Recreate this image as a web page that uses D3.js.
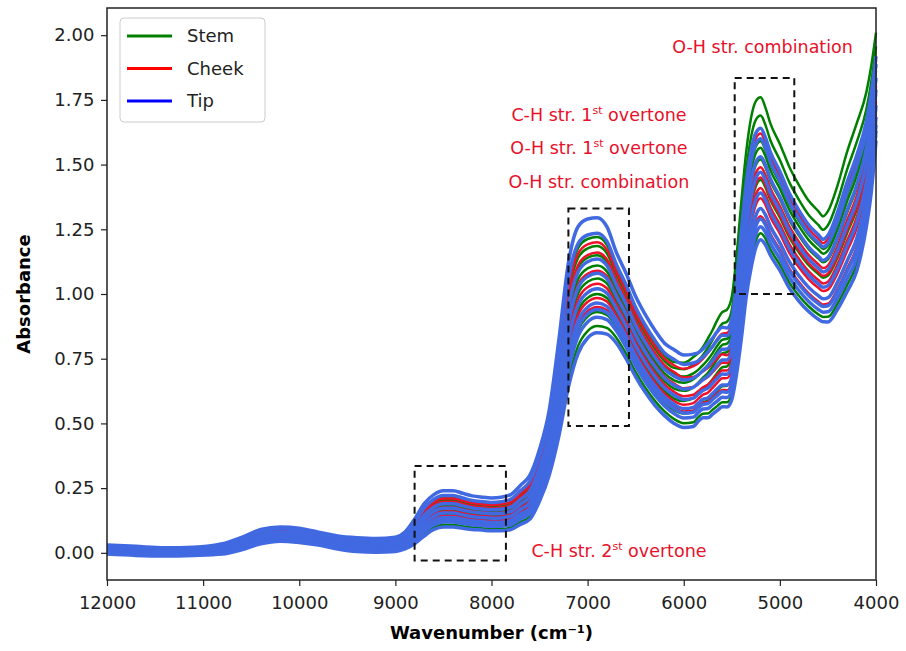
<!DOCTYPE html>
<html>
<head>
<meta charset="utf-8">
<script src="https://cdn.jsdelivr.net/npm/d3@7"></script>
<style>
  body { margin: 0; background: #fff; }
  text { font-family: "DejaVu Sans", sans-serif; }
</style>
</head>
<body>
<div id="chart"></div>
<script>
(function() {
	// wavenumber grid (cm-1) and the lowest / highest spectrum
	var wavenumbers = [12000, 11700, 11400, 11100, 10800, 10600, 10400, 10200, 10000, 9800, 9600, 9400, 9200, 9000,
		8900, 8800, 8700, 8600, 8500, 8400, 8300, 8200, 8100, 8000, 7900, 7800, 7700, 7600, 7500, 7400, 7300, 7200,
		7100, 7000, 6900, 6800, 6700, 6600, 6500, 6400, 6300, 6200, 6100, 6000, 5900, 5850, 5800, 5750, 5700, 5650,
		5600, 5550, 5500, 5450, 5400, 5350, 5300, 5250, 5200, 5150, 5100, 5000, 4900, 4800, 4700, 4600, 4550, 4500,
		4400, 4300, 4200, 4100, 4050, 4000];
	var lowEdge = [-0.005, -0.01, -0.012, -0.01, -0.005, 0.012, 0.035, 0.045, 0.04, 0.03, 0.015, 0.005, 0.002, 0.005,
		0.015, 0.035, 0.065, 0.09, 0.10, 0.10, 0.095, 0.09, 0.088, 0.085, 0.085, 0.09, 0.11, 0.13, 0.20, 0.30, 0.45, 0.64,
		0.77, 0.83, 0.85, 0.845, 0.81, 0.75, 0.68, 0.62, 0.57, 0.53, 0.50, 0.485, 0.49, 0.51, 0.525, 0.525, 0.54, 0.555,
		0.57, 0.57, 0.60, 0.70, 0.84, 1.00, 1.11, 1.19, 1.22, 1.20, 1.16, 1.10, 1.03, 0.98, 0.94, 0.91, 0.90, 0.90,
		0.95, 1.02, 1.10, 1.27, 1.40, 1.60];
	var highEdge = [0.03, 0.025, 0.02, 0.022, 0.035, 0.06, 0.09, 0.10, 0.095, 0.08, 0.065, 0.058, 0.055, 0.06,
		0.08, 0.13, 0.19, 0.225, 0.24, 0.24, 0.23, 0.22, 0.215, 0.212, 0.215, 0.225, 0.26, 0.30, 0.40, 0.55, 0.82, 1.12,
		1.26, 1.29, 1.295, 1.26, 1.16, 1.08, 0.99, 0.92, 0.86, 0.81, 0.785, 0.775, 0.79, 0.80, 0.82, 0.85, 0.88, 0.915,
		0.94, 0.945, 0.99, 1.15, 1.36, 1.55, 1.68, 1.745, 1.76, 1.72, 1.66, 1.58, 1.49, 1.42, 1.36, 1.32, 1.30, 1.32,
		1.42, 1.55, 1.66, 1.78, 1.88, 2.01];

	// peak heights of each sample: near 6900 and near 5200 cm-1
	var stemPeak1 = [1.22, 1.185, 1.15, 1.11, 1.06, 1.00, 0.93, 0.876];
	var stemPeak2 = [1.76, 1.69, 1.59, 1.565, 1.52, 1.44, 1.33, 1.235];
	var cheekPeak1 = [1.20, 1.16, 1.09, 1.04, 0.985, 0.95];
	var cheekPeak2 = [1.62, 1.49, 1.45, 1.41, 1.37, 1.30];
	var tipPeak1 = [1.295, 1.235, 1.135, 1.08, 1.02, 0.965, 0.94, 0.91, 0.85];
	var tipPeak2 = [1.64, 1.60, 1.53, 1.47, 1.39, 1.33, 1.29, 1.26, 1.21];

	var xTicks = [12000, 11000, 10000, 9000, 8000, 7000, 6000, 5000, 4000];
	var yTicks = [0, 0.25, 0.5, 0.75, 1.0, 1.25, 1.5, 1.75, 2.0];

	var groups = ["Stem", "Cheek", "Tip"];
	var legendColors = ["#008000", "#ff0000", "#0000ff"];

	var width = 906, height = 651;
	var margin = { top: 8, left: 107, right: 30, bottom: 71 };

	var svg = d3.select("#chart")
				.append("svg")
				.attr("width", width)
				.attr("height", height);

	var xScale = d3.scaleLinear()
				.domain([12000, 4000])
				.range([margin.left, width - margin.right]);

	var yScale = d3.scaleLinear()
				.domain([-0.105, 2.105])
				.range([height - margin.bottom, margin.top]);

	// where a sample sits between the two edges, at each wavenumber
	function spectrum(p1, p2) {
		var t1 = (p1 - 0.85) / (1.295 - 0.85);
		var t2 = (p2 - 1.22) / (1.76 - 1.22);
		return wavenumbers.map(function(w, i) {
			var k = Math.max(0, Math.min(1, (6100 - w) / 600));
			var t = t1 * (1 - k) + t2 * k;
			return [w, lowEdge[i] + t * (highEdge[i] - lowEdge[i])];
		});
	}

	var line = d3.line()
				.x(function(d) { return xScale(d[0]); })
				.y(function(d) { return yScale(d[1]); })
				.curve(d3.curveMonotoneX);

	var plot = svg.append("g");

	plot.selectAll(".stem")
		.data(stemPeak1.map(function(p, i) { return spectrum(p, stemPeak2[i]); }))
		.enter()
		.append("path")
		.attr("class", "stem")
		.attr("d", line)
		.attr("fill", "none")
		.attr("stroke", "#008000")
		.attr("stroke-width", 2.5);

	plot.selectAll(".cheek")
		.data(cheekPeak1.map(function(p, i) { return spectrum(p, cheekPeak2[i]); }))
		.enter()
		.append("path")
		.attr("class", "cheek")
		.attr("d", line)
		.attr("fill", "none")
		.attr("stroke", "#f0102a")
		.attr("stroke-width", 2.5);

	plot.selectAll(".tip")
		.data(tipPeak1.map(function(p, i) { return spectrum(p, tipPeak2[i]); }))
		.enter()
		.append("path")
		.attr("class", "tip")
		.attr("d", line)
		.attr("fill", "none")
		.attr("stroke", "#4169e1")
		.attr("stroke-width", 3.5);

	// dashed boxes round the bands
	var boxes = [
		{ x0: 8800, x1: 7850, y0: 0.335, y1: -0.03 },
		{ x0: 7200, x1: 6570, y0: 1.33, y1: 0.49 },
		{ x0: 5470, x1: 4850, y0: 1.835, y1: 1.0 }
	];
	svg.selectAll(".box")
		.data(boxes)
		.enter()
		.append("rect")
		.attr("class", "box")
		.attr("x", function(d) { return xScale(d.x0); })
		.attr("y", function(d) { return yScale(d.y0); })
		.attr("width", function(d) { return xScale(d.x1) - xScale(d.x0); })
		.attr("height", function(d) { return yScale(d.y1) - yScale(d.y0); })
		.attr("fill", "none")
		.attr("stroke", "#111")
		.attr("stroke-width", 2)
		.attr("stroke-dasharray", "7,5");

	// labels
	var notes = [
		{ w: 5180, v: 1.93, main: "O-H str. combination" },
		{ w: 6882, v: 1.67, main: "C-H str. 1", sup: "st", rest: " overtone" },
		{ w: 6882, v: 1.54, main: "O-H str. 1", sup: "st", rest: " overtone" },
		{ w: 6882, v: 1.41, main: "O-H str. combination" },
		{ w: 6674, v: -0.015, main: "C-H str. 2", sup: "st", rest: " overtone" }
	];
	var note = svg.selectAll(".note")
		.data(notes)
		.enter()
		.append("text")
		.attr("class", "note")
		.attr("x", function(d) { return xScale(d.w); })
		.attr("y", function(d) { return yScale(d.v); })
		.attr("text-anchor", "middle")
		.attr("fill", "#e8102a")
		.style("font-size", "17.5px");
	note.append("tspan").text(function(d) { return d.main; });
	note.filter(function(d) { return d.sup; })
		.append("tspan")
		.attr("dy", -7)
		.style("font-size", "11px")
		.text(function(d) { return d.sup; });
	note.filter(function(d) { return d.sup; })
		.append("tspan")
		.attr("dy", 7)
		.text(function(d) { return d.rest; });

	// axes
	var xAxis = svg.append("g")
		.attr("transform", "translate(0," + (height - margin.bottom) + ")")
		.call(d3.axisBottom(xScale).tickValues(xTicks).tickFormat(d3.format("d")).tickSize(6).tickSizeOuter(0));
	var yAxis = svg.append("g")
		.attr("transform", "translate(" + margin.left + ",0)")
		.call(d3.axisLeft(yScale).tickValues(yTicks).tickFormat(d3.format(".2f")).tickSize(6).tickSizeOuter(0));
	[xAxis, yAxis].forEach(function(a) {
		a.select(".domain").remove();
		a.selectAll("line").attr("stroke", "#222").attr("stroke-width", 1.2);
		a.selectAll("text").style("font-size", "18px").attr("fill", "#222");
	});
	xAxis.selectAll("text").attr("dy", "1.1em");
	yAxis.selectAll("text").attr("dx", "-0.2em");

	svg.append("rect")
		.attr("x", margin.left)
		.attr("y", margin.top)
		.attr("width", width - margin.left - margin.right)
		.attr("height", height - margin.top - margin.bottom)
		.attr("fill", "none")
		.attr("stroke", "#222")
		.attr("stroke-width", 1.5);

	svg.append("text")
		.attr("x", (margin.left + width - margin.right) / 2)
		.attr("y", 639)
		.attr("text-anchor", "middle")
		.style("font-size", "18px")
		.style("font-weight", "bold")
		.text("Wavenumber (cm\u207b\u00b9)");

	svg.append("text")
		.attr("transform", "translate(30," + yScale(1.0) + ") rotate(-90)")
		.attr("text-anchor", "middle")
		.style("font-size", "18px")
		.style("font-weight", "bold")
		.text("Absorbance");

	// legend
	var legend = svg.append("g").attr("transform", "translate(120,18)");
	legend.append("rect")
		.attr("width", 145)
		.attr("height", 104)
		.attr("rx", 4)
		.attr("fill", "#fff")
		.attr("fill-opacity", 0.8)
		.attr("stroke", "#ccc");
	var item = legend.selectAll(".item")
		.data(groups)
		.enter()
		.append("g")
		.attr("class", "item")
		.attr("transform", function(d, i) { return "translate(0," + (18 + i * 32.5) + ")"; });
	item.append("line")
		.attr("x1", 7).attr("x2", 52)
		.attr("stroke", function(d, i) { return legendColors[i]; })
		.attr("stroke-width", 3);
	item.append("text")
		.attr("x", 67)
		.attr("dy", "0.35em")
		.style("font-size", "18px")
		.attr("fill", "#222")
		.text(function(d) { return d; });
})();
</script>
</body>
</html>
